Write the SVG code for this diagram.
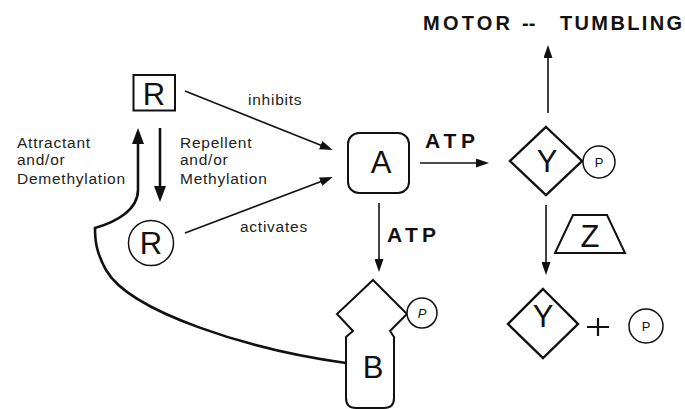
<svg xmlns="http://www.w3.org/2000/svg" width="685" height="409" viewBox="0 0 685 409">
<style>
.bg{fill:#fff}
.ln{fill:none;stroke:#111;stroke-width:1.6}
.lnb{fill:none;stroke:#111;stroke-width:2.6}
.sh{fill:#fff;stroke:#111;stroke-width:2}
.shd{fill:#fff;stroke:#111;stroke-width:2.4;stroke-linejoin:miter}
.pc{fill:#fff;stroke:#111;stroke-width:1.5}
.big{font-family:"Liberation Sans",Arial,sans-serif;font-size:31px;fill:#111;text-anchor:middle}
.sm{font-family:"Liberation Sans",Arial,sans-serif;font-size:13px;fill:#111;text-anchor:middle}
.lab{font-family:"Liberation Sans",Arial,sans-serif;font-size:15.5px;letter-spacing:0.75px;fill:#222}
.bold{font-family:"Liberation Sans",Arial,sans-serif;font-weight:bold;font-size:20px;fill:#111}
.atp{font-size:21px}
</style>
<defs>
<marker id="ah" viewBox="0 0 13 9" refX="9" refY="4.5" markerWidth="13" markerHeight="9" markerUnits="userSpaceOnUse" orient="auto">
<path d="M0,0 L13,4.5 L0,9 z" fill="#111"/>
</marker>
<marker id="ahb" viewBox="0 0 16 12" refX="12" refY="6" markerWidth="16" markerHeight="12" markerUnits="userSpaceOnUse" orient="auto">
<path d="M0,0 L16,6 L0,12 z" fill="#111"/>
</marker>
</defs>
<rect class="bg" x="0" y="0" width="685" height="409"/>

<g id="connectors">
<line class="ln" x1="185" y1="91" x2="329" y2="148.5" marker-end="url(#ah)"/>
<line class="ln" x1="185" y1="233" x2="329" y2="178.5" marker-end="url(#ah)"/>
<line class="ln" x1="420" y1="163" x2="485" y2="163" marker-end="url(#ah)"/>
<line class="ln" x1="379" y1="203" x2="379" y2="268" marker-end="url(#ah)"/>
<line class="ln" x1="548" y1="113" x2="548" y2="49" marker-end="url(#ah)"/>
<line class="ln" x1="546" y1="205" x2="546" y2="271" marker-end="url(#ah)"/>
<line class="lnb" x1="160" y1="128" x2="160" y2="198" marker-end="url(#ahb)"/>
<path class="lnb" d="M346,363 C250,350 130,312 106,270 C96,252 95,240 95,228 C116,222 138,210 138,190 L138,132" marker-end="url(#ahb)"/>
</g>

<g id="node-R-inactive">
<rect x="133.5" y="75" width="41.5" height="35.5" fill="#fff" stroke="#111" stroke-width="2"/>
<text class="big" x="154" y="105">R</text>
</g>

<g id="node-R-active">
<circle cx="151" cy="243" r="22.5" class="pc" stroke-width="1.8"/>
<text class="big" x="151" y="254" font-size="29">R</text>
</g>

<g id="node-A">
<rect class="sh" x="348" y="133" width="61" height="60" rx="11"/>
<text class="big" x="381" y="173" font-size="33">A</text>
</g>

<g id="node-Y-P">
<path class="shd" d="M546,127 L582,161 L546,195 L510,161 Z"/>
<text class="big" x="547" y="172" font-size="32">Y</text>
<circle class="pc" cx="599" cy="162" r="16"/>
<text class="sm" x="599" y="167">P</text>
</g>

<g id="node-B-P">
<path class="sh" d="M373,280 L407,314 L390,331 L394,337 L394,398 Q394,408 384,408 L356,408 Q346,408 346,398 L346,337 L353,331 L337,314 Z"/>
<text class="big" x="373" y="378">B</text>
<circle class="pc" cx="422" cy="313" r="15"/>
<text class="sm" x="422" y="318" font-style="italic">P</text>
</g>

<g id="node-Z">
<path class="sh" d="M573,215 L607,215 L625,253 L555,253 Z"/>
<text class="big" x="590" y="247" font-size="29">Z</text>
</g>

<g id="node-Y">
<path class="shd" d="M543,289 L578,324 L543,358 L508,324 Z"/>
<text class="big" x="543" y="327" font-size="32">Y</text>
</g>

<g id="node-plus">
<path d="M587,327 H609 M598,318 V336" stroke="#111" stroke-width="2.2" fill="none"/>
</g>

<g id="node-P">
<circle class="pc" cx="646" cy="326" r="17"/>
<text class="sm" x="646" y="331">P</text>
</g>

<g id="node-motor">
<text class="bold" y="30"><tspan x="423" textLength="87" lengthAdjust="spacing">MOTOR</tspan><tspan x="522">--</tspan><tspan x="560" textLength="122" lengthAdjust="spacing">TUMBLING</tspan></text>
</g>

<g id="labels">
<text class="bold atp" x="425" y="148" textLength="50" lengthAdjust="spacing">ATP</text>
<text class="bold atp" x="387" y="242" textLength="49" lengthAdjust="spacing">ATP</text>
<text class="lab" x="248" y="105">inhibits</text>
<text class="lab" x="240" y="232">activates</text>
<text class="lab" x="17" y="148">Attractant</text>
<text class="lab" x="17" y="165">and/or</text>
<text class="lab" x="17" y="184">Demethylation</text>
<text class="lab" x="180" y="148">Repellent</text>
<text class="lab" x="180" y="165">and/or</text>
<text class="lab" x="180" y="184">Methylation</text>
</g>
</svg>
